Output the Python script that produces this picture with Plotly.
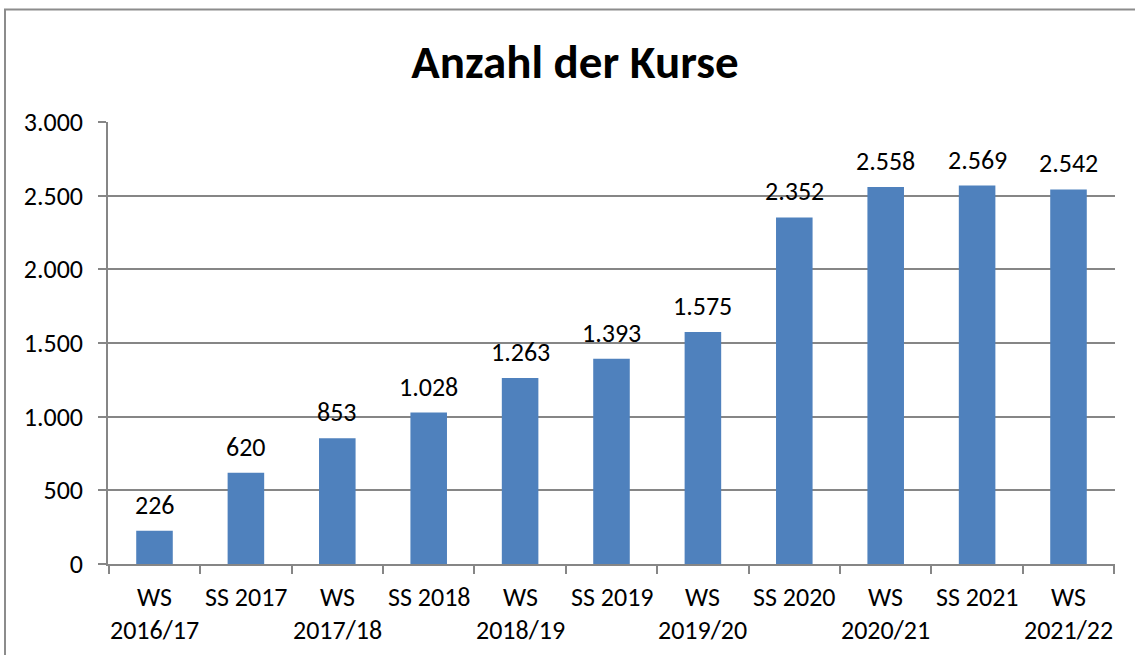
import plotly.graph_objects as go

# Semester labels (two-line where the original breaks them)
semester_line1 = ["WS", "SS 2017", "WS", "SS 2018", "WS", "SS 2019", "WS", "SS 2020", "WS", "SS 2021", "WS"]
semester_line2 = ["2016/17", "", "2017/18", "", "2018/19", "", "2019/20", "", "2020/21", "", "2021/22"]
categories = [a if not b else f"{a} {b}" for a, b in zip(semester_line1, semester_line2)]
kurse = [226, 620, 853, 1028, 1263, 1393, 1575, 2352, 2558, 2569, 2542]
y_ticks = [0, 500, 1000, 1500, 2000, 2500, 3000]

FONT = "Carlito, Lato, sans-serif"
FS = 26
BAR = "#4F81BD"
GRID = "#868686"

W, H = 1135, 655
L, R, T, B = 108, 20, 122, 91
pw, ph = W - L - R, H - T - B

fig = go.Figure(
    go.Bar(
        x=categories,
        y=kurse,
        marker=dict(color=BAR, line=dict(width=0)),
        cliponaxis=False,
    )
)

annotations = []

# value labels above each bar, German thousands separator
for cat, v in zip(categories, kurse):
    annotations.append(dict(x=cat, y=v, xref="x", yref="y", text=f"{v:,d}".replace(",", "."),
                            showarrow=False, yanchor="bottom", yshift=8,
                            font=dict(family=FONT, size=FS, color="black")))

# two-line category labels below the axis
for cat, l1, l2 in zip(categories, semester_line1, semester_line2):
    annotations.append(dict(x=cat, y=0, xref="x", yref="paper", text=l1, showarrow=False,
                            yanchor="middle", yshift=-33, font=dict(family=FONT, size=FS, color="black")))
    if l2:
        annotations.append(dict(x=cat, y=0, xref="x", yref="paper", text=l2, showarrow=False,
                                yanchor="middle", yshift=-66, font=dict(family=FONT, size=FS, color="black")))

# outer chart border
px = lambda v: (v - L) / pw
py = lambda v: (H - B - v) / ph
shapes = [dict(type="rect", xref="paper", yref="paper",
               x0=px(5), x1=px(W + 10), y0=py(9.5), y1=py(H + 10),
               line=dict(color="#8C8C8C", width=2), fillcolor="rgba(0,0,0,0)", layer="below")]

fig.update_layout(
    width=W, height=H,
    margin=dict(l=L, r=R, t=T, b=B),
    paper_bgcolor="white", plot_bgcolor="white",
    separators=",.",
    bargap=0.6,
    showlegend=False,
    title=dict(text="<b>Anzahl der Kurse</b>", x=575 / W, xanchor="center", xref="container",
               y=1 - 62 / H, yanchor="middle", yref="container",
               font=dict(family=FONT, size=47, color="black")),
    annotations=annotations,
    shapes=shapes,
    xaxis=dict(
        type="category", showticklabels=False,
        showline=True, linecolor=GRID, linewidth=1.5,
        ticks="outside", tickson="boundaries", ticklen=8, tickcolor=GRID, tickwidth=1.5,
        showgrid=False,
    ),
    yaxis=dict(
        range=[0, 3000], tickvals=y_ticks, tickformat=",d",
        showline=True, linecolor=GRID, linewidth=1.5,
        ticks="outside", ticklen=8, tickcolor=GRID, tickwidth=1.5,
        ticklabelstandoff=10,
        showgrid=True, gridcolor=GRID, gridwidth=1.5,
        zeroline=False,
        tickfont=dict(family=FONT, size=FS, color="black"),
    ),
)

fig.write_html("out.html")
